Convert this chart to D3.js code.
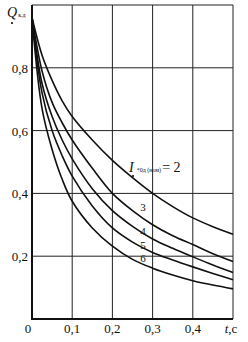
<!DOCTYPE html>
<html>
<head>
<meta charset="utf-8">
<script src="https://cdn.jsdelivr.net/npm/d3@7"></script>
<style>
  body { margin: 0; background: #fff; }
  svg { display: block; }
</style>
</head>
<body>
<div id="chart"></div>
<script>
// time, s
var tVals = [0, 0.025, 0.05, 0.075, 0.1, 0.15, 0.2, 0.25, 0.3, 0.35, 0.4, 0.45, 0.5];

// Q*к.д for each I*0д(ном)
var curveNames = ['2', '3', '4', '5', '6'];
var q2 = [0.96, 0.84, 0.76, 0.695, 0.645, 0.57, 0.505, 0.45, 0.40, 0.358, 0.322, 0.294, 0.27];
var q3 = [0.96, 0.79, 0.69, 0.625, 0.57, 0.48, 0.40, 0.345, 0.30, 0.265, 0.237, 0.208, 0.183];
var q4 = [0.96, 0.75, 0.645, 0.57, 0.51, 0.415, 0.345, 0.295, 0.255, 0.225, 0.198, 0.172, 0.148];
var q5 = [0.96, 0.72, 0.60, 0.52, 0.455, 0.36, 0.29, 0.245, 0.212, 0.188, 0.166, 0.145, 0.125];
var q6 = [0.96, 0.67, 0.54, 0.445, 0.375, 0.29, 0.232, 0.19, 0.162, 0.14, 0.122, 0.108, 0.096];
var series = [q2, q3, q4, q5, q6];

var xTicks = [0.1, 0.2, 0.3, 0.4, 0.5];
var xTickLabels = ['0,1', '0,2', '0,3', '0,4'];
var yTicks = [0.2, 0.4, 0.6, 0.8, 1.0];
var yTickLabels = ['0,2', '0,4', '0,6', '0,8'];

var W = 248, H = 342;

let svg = d3.select('#chart').append('svg')
    .attr('width', W)
    .attr('height', H)
    .attr('font-family', '"Liberation Serif", "DejaVu Serif", serif')
    .attr('fill', '#111')

let x = d3.scaleLinear().domain([0, 0.5]).range([32, 233])
let y = d3.scaleLinear().domain([0, 1]).range([319, 5])

// grid
xTicks.forEach(t => {
    svg.append('line')
        .attr('x1', x(t)).attr('x2', x(t))
        .attr('y1', y(0)).attr('y2', y(1))
        .attr('stroke', '#222').attr('stroke-width', 1)
})
yTicks.forEach(v => {
    svg.append('line')
        .attr('x1', x(0)).attr('x2', x(0.5))
        .attr('y1', y(v)).attr('y2', y(v))
        .attr('stroke', '#222').attr('stroke-width', 1)
})

// axes (heavier)
svg.append('line')
    .attr('x1', x(0)).attr('x2', x(0))
    .attr('y1', y(0) + 1).attr('y2', y(1))
    .attr('stroke', '#111').attr('stroke-width', 2)
svg.append('line')
    .attr('x1', x(0) - 1).attr('x2', x(0.5))
    .attr('y1', y(0)).attr('y2', y(0))
    .attr('stroke', '#111').attr('stroke-width', 2)

// tick labels
yTickLabels.forEach((lab, i) => {
    svg.append('text')
        .attr('x', x(0) - 4)
        .attr('y', y(yTicks[i]) + 5)
        .attr('text-anchor', 'end')
        .attr('font-size', 13)
        .text(lab)
})
svg.append('text')
    .attr('x', x(0) - 4).attr('y', 333)
    .attr('text-anchor', 'middle')
    .attr('font-size', 13)
    .text('0')
xTickLabels.forEach((lab, i) => {
    svg.append('text')
        .attr('x', x(xTicks[i]))
        .attr('y', 333)
        .attr('text-anchor', 'middle')
        .attr('font-size', 13)
        .text(lab)
})
let tc = svg.append('text')
    .attr('x', x(0.5) - 2).attr('y', 333)
    .attr('text-anchor', 'middle')
    .attr('font-size', 13)
tc.append('tspan').attr('font-style', 'italic').text('t')
tc.append('tspan').text(',c')

// y axis title
let qt = svg.append('text')
    .attr('x', 7).attr('y', 17)
    .attr('font-size', 14)
qt.append('tspan').attr('font-style', 'italic').text('Q')
qt.append('tspan').attr('font-size', 6).attr('dx', 1).text('к.д')
svg.append('circle').attr('cx', 12).attr('cy', 23).attr('r', 1.1).attr('fill', '#111')

// curves
let line = d3.line()
    .x((d, i) => x(tVals[i]))
    .y(d => y(d))
    .curve(d3.curveCatmullRom.alpha(0.5))

svg.selectAll('path.curve').data(series).enter()
    .append('path')
    .attr('class', 'curve')
    .attr('fill', 'none')
    .attr('stroke', '#111')
    .attr('stroke-width', 1.6)
    .attr('d', line)

// curve labels
var labelY = [null, 211, 235, 248.5, 262];
curveNames.forEach((n, i) => {
    if (i == 0) return;
    svg.append('text')
        .attr('x', 143).attr('y', labelY[i])
        .attr('text-anchor', 'middle')
        .attr('font-size', 11)
        .text(n)
})

// parameter label
let it = svg.append('text')
    .attr('x', 129).attr('y', 172)
    .attr('font-size', 14)
it.append('tspan').attr('font-style', 'italic').text('I')
it.append('tspan').attr('font-size', 6).attr('dx', 3).text('*0д (ном)')
it.append('tspan').attr('font-size', 14).attr('dx', 1).text('= 2')
svg.append('circle').attr('cx', 133).attr('cy', 176).attr('r', 1.1).attr('fill', '#111')
</script>
</body>
</html>
